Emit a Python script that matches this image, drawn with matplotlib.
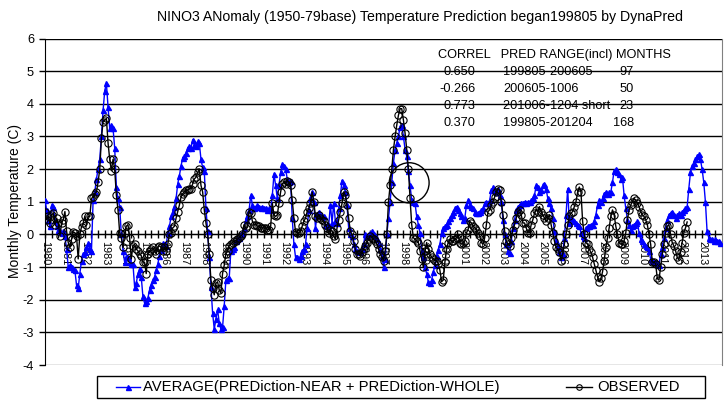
import numpy as np
import matplotlib
matplotlib.use("Agg")
import matplotlib.pyplot as plt
from matplotlib.patches import Ellipse, Rectangle
from matplotlib.lines import Line2D

plt.rcParams['font.family'] = ['Liberation Sans', 'DejaVu Sans']

# ---------------- data (monthly, starting Jan 1980) ----------------
obs_1980s = [
    0.70, 0.45, 0.55, 0.35, 0.60, 0.65, 0.30, 0.50, 0.35, -0.05, 0.35, 0.45,
    0.70, 0.10, -0.25, -0.40, -0.15, 0.08, 0.05, -0.05, -0.75, 0.00, 0.23, 0.35,
    0.55, 0.30, 0.55, 0.55, 1.10, 1.15, 1.25, 1.30, 1.60, 2.00, 2.95, 3.45,
    3.50, 3.55, 2.80, 2.30, 1.95, 2.30, 2.00, 1.20, 0.75, 0.05, -0.10, -0.40,
    0.05, 0.25, 0.30, -0.10, -0.75, -0.35, -0.30, -0.45, -0.50, -0.60, -0.65, -0.85,
    -0.85, -1.20, -0.60, -0.50, -0.45, -0.40, -0.50, -0.60, -0.40, -0.35, -0.40, -0.50,
    -0.40, -0.50, -0.30, 0.00, 0.05, 0.20, 0.25, 0.50, 0.70, 0.90, 1.15, 1.25,
    1.30, 1.35, 1.35, 1.40, 1.40, 1.55, 1.70, 1.75, 1.90, 2.00, 1.50, 1.30,
    0.75, 0.35, 0.00, -0.60, -1.40, -1.65, -1.85, -1.50, -1.45, -1.70, -1.80, -1.20,
    -0.95, -0.60, -0.50, -0.35, -0.30, -0.25, -0.20, -0.20, -0.15, -0.10, -0.05, 0.00,
]
obs_1990s = [
    0.30, 0.20, 0.25, 0.70, 0.65, 0.40, 0.30, 0.30, 0.25, 0.25, 0.20, 0.20,
    0.20, 0.20, 0.15, 0.15, 0.25, 0.95, 0.60, 0.55, 0.60, 0.95, 1.30, 1.55,
    1.60, 1.55, 1.65, 1.60, 1.50, 1.05, 0.50, 0.08, 0.05, 0.05, 0.10, 0.25,
    0.40, 0.50, 0.70, 0.80, 0.95, 1.30, 1.00, 0.55, 0.50, 0.60, 0.50, 0.45,
    0.40, 0.30, 0.20, 0.05, 0.15, 0.10, -0.05, -0.15, 0.20, 0.45, 0.70, 0.95,
    1.30, 1.20, 0.90, 0.50, 0.10, 0.00, -0.20, -0.45, -0.60, -0.60, -0.65, -0.55,
    -0.45, -0.35, -0.25, -0.15, -0.05, -0.10, -0.15, -0.20, -0.30, -0.45, -0.60, -0.70,
    -0.80, -0.50, 0.00, 1.00, 1.50, 2.00, 2.60, 3.00, 3.35, 3.65, 3.85, 3.85,
    3.50, 3.10, 2.60, 2.00, 1.10, 0.30, -0.10, -0.15, -0.20, -0.25, -0.50, -0.75,
    -1.00, -0.50, -0.25, -0.45, -0.60, -0.70, -0.75, -0.80, -0.80, -0.90, -1.10, -1.45,
]
obs_2000s = [
    -1.40, -0.85, -0.45, -0.25, -0.15, -0.20, -0.20, -0.15, -0.10, 0.00, -0.25, -0.30,
    -0.25, -0.20, 0.05, 0.15, 0.40, 0.35, 0.25, 0.20, 0.15, 0.05, -0.05, -0.25,
    -0.30, -0.10, 0.30, 0.70, 0.75, 0.90, 1.00, 1.15, 1.30, 1.40, 1.35, 1.00,
    0.60, 0.10, -0.20, -0.30, -0.35, -0.10, 0.15, 0.30, 0.50, 0.70, 0.75, 0.60,
    0.35, 0.35, 0.20, 0.05, 0.05, 0.30, 0.45, 0.65, 0.75, 0.70, 0.85, 0.70,
    0.60, 0.50, 0.40, 0.50, 0.60, 0.30, 0.05, -0.20, -0.40, -0.45, -0.55, -0.80,
    -0.60, -0.30, 0.00, 0.30, 0.55, 0.65, 0.70, 0.85, 1.00, 1.30, 1.45, 1.30,
    0.40, 0.00, -0.25, -0.30, -0.45, -0.55, -0.70, -0.90, -1.10, -1.30, -1.45, -1.35,
    -1.15, -0.80, -0.40, -0.10, 0.20, 0.55, 0.75, 0.60, 0.25, 0.00, -0.25, -0.30,
    -0.30, -0.20, 0.05, 0.45, 0.75, 0.90, 1.00, 1.10, 1.05, 0.95, 0.85, 0.70,
]
obs_2010s = [
    0.60, 0.55, 0.45, 0.30, 0.00, -0.30, -0.85, -0.85, -0.90, -1.35, -1.40, -1.00,
    -0.60, -0.30, 0.05, 0.25, 0.30, 0.00, -0.25, -0.35, -0.50, -0.70, -0.78, -0.55,
    -0.25, 0.05, 0.20, 0.38,
]

pred_1980s = [
    1.05, 0.75, 0.45, 0.25, 0.90, 0.85, 0.45, 0.25, 0.15, 0.10, 0.05, 0.10,
    -0.05, -0.45, -1.00, -0.95, -1.00, -1.05, -1.10, -1.55, -1.65, -1.20, -0.80, -0.60,
    -0.55, -0.40, -0.27, -0.45, -0.50, 1.05, 1.30, 1.70, 2.00, 2.30, 3.00, 3.80,
    4.40, 4.63, 3.90, 3.25, 3.35, 3.25, 2.65, 1.45, 1.10, 0.85, 0.00, -0.50,
    -0.85, -0.70, -0.70, -0.85, -0.90, -0.90, -1.60, -1.50, -1.20, -1.05, -1.30, -1.90,
    -2.10, -2.05, -1.95, -1.70, -1.55, -1.40, -1.30, -1.10, -0.90, -0.65, -0.47, -0.27,
    -0.30, -0.35, 0.05, 0.25, 0.55, 0.70, 0.85, 1.10, 1.55, 1.80, 2.10, 2.35,
    2.40, 2.50, 2.65, 2.70, 2.65, 2.90, 2.75, 2.70, 2.85, 2.80, 2.30, 2.05,
    1.95, 0.80, 0.10, -0.70, -1.60, -2.40, -2.90, -2.60, -2.30, -2.70, -2.90, -2.85,
    -2.20, -1.40, -1.35, -1.35, -0.50, -0.45, -0.40, -0.20, -0.15, -0.10, 0.00, 0.05,
]
pred_1990s = [
    0.20, 0.45, 0.55, 0.75, 1.20, 0.90, 0.80, 0.85, 0.90, 0.85, 0.80, 0.85,
    0.80, 0.80, 0.75, 0.80, 0.75, 1.20, 1.85, 1.50, 1.10, 1.50, 1.90, 2.15,
    2.10, 2.00, 1.70, 1.60, 1.65, 0.50, -0.30, -0.70, -0.70, -0.75, -0.65, -0.50,
    -0.45, -0.30, 0.20, 0.75, 1.10, 1.30, 1.00, 0.20, 0.60, 0.70, 0.60, 0.55,
    0.55, 0.30, 0.25, 0.30, 0.90, 0.35, 0.95, 0.40, 0.35, 0.80, 1.20, 1.65,
    1.50, 1.30, 0.90, 0.20, 0.00, -0.05, -0.30, -0.45, -0.50, -0.55, -0.50, -0.45,
    -0.30, 0.00, -0.05, 0.00, 0.05, 0.10, 0.00, -0.05, -0.15, -0.25, -0.45, -0.65,
    -1.00, -0.75, 0.00, 0.50, 1.00, 1.60, 2.20, 2.60, 2.80, 3.00, 3.30, 3.35,
    3.00, 2.60, 2.40, 1.95, 1.50, 1.05, 1.00, 0.95, 0.55, 0.30, 0.05, -0.50,
    -0.70, -1.00, -1.20, -1.45, -1.50, -1.40, -1.15, -0.95, -0.65, -0.47, -0.30, 0.05,
]
pred_2000s = [
    0.20, 0.25, 0.30, 0.40, 0.50, 0.60, 0.70, 0.80, 0.85, 0.75, 0.65, 0.55,
    0.45, 0.50, 0.90, 1.05, 0.90, 0.85, 0.80, 0.70, 0.65, 0.65, 0.70, 0.75,
    0.80, 0.95, 1.00, 0.95, 1.05, 1.35, 1.45, 1.35, 1.30, 1.40, 1.20, 1.00,
    0.45, 0.00, -0.30, -0.50, -0.57, -0.20, 0.20, 0.45, 0.75, 0.85, 0.90, 0.95,
    0.95, 1.00, 0.95, 1.00, 1.00, 1.05, 1.10, 1.20, 1.50, 1.45, 1.30, 1.35,
    1.50, 1.55, 1.40, 1.10, 0.95, 0.80, 0.50, 0.10, -0.20, -0.40, -0.55, -0.70,
    -0.60, -0.10, 0.60, 1.40, 0.35, 0.50, 0.45, 0.40, 0.35, 0.30, 0.25, 0.05,
    -0.05, -0.10, 0.20, 0.25, 0.25, 0.30, 0.30, 0.40, 0.60, 0.90, 1.05, 1.00,
    1.10, 1.25, 1.30, 1.25, 1.30, 1.30, 1.60, 1.95, 2.00, 1.90, 1.85, 1.70,
    1.75, 1.20, 0.80, 0.45, 0.30, 0.15, 0.25, 0.30, 0.35, 0.40, 0.05, -0.15,
]
pred_2010s = [
    -0.20, -0.30, -0.35, -0.40, -0.50, -0.75, -0.80, -0.85, -0.85, -0.90, -0.95, -0.60,
    -0.40, -0.10, 0.20, 0.45, 0.60, 0.65, 0.70, 0.60, 0.50, 0.60, 0.65, 0.60,
    0.70, 0.75, 0.80, 0.85, 1.40, 1.90, 2.10, 2.20, 2.30, 2.40, 2.45, 2.30,
    2.00, 1.60, 1.00, 0.10, -0.10, -0.15, -0.15, -0.20, -0.15, -0.20, -0.20, -0.25,
]

start_year = 1980
year_labels = [str(y) for y in range(1980, 2014)]

table_header = "CORREL   PRED RANGE(incl) MONTHS"
table_correl = ["0.650", "-0.266", "0.773", "0.370"]
table_range = ["199805-200605", "200605-1006", "201006-1204 short", "199805-201204"]
table_months = ["97", "50", "23", "168"]

title = "NINO3 ANomaly (1950-79base) Temperature Prediction began199805 by DynaPred"
pred_label = "AVERAGE(PREDiction-NEAR + PREDiction-WHOLE)"
obs_label = "OBSERVED"

# ---------------- figure ----------------
W, H = 728, 405
fig = plt.figure(figsize=(W / 100, H / 100), dpi=100)
fig.patch.set_facecolor('white')

def fx(px):
    return px / W

def fy(py):
    return 1 - py / H

L, R, T, B = 45, 722, 38.5, 365
ax = fig.add_axes([fx(L), fy(B), fx(R) - fx(L), fy(T) - fy(B)])

observed = np.array(obs_1980s + obs_1990s + obs_2000s + obs_2010s)
predicted = np.array(pred_1980s + pred_1990s + pred_2000s + pred_2010s)
t_obs = start_year + np.arange(len(observed)) / 12.0
t_pred = start_year + np.arange(len(predicted)) / 12.0

ax.set_xlim(1980, 2014)
ax.set_ylim(-4, 6)

# gridlines
for v in range(-3, 7):
    ax.axhline(v, color='black', lw=1, zorder=1)
ax.axhline(-4, color='#808080', lw=1, zorder=1)

ax.plot(t_pred, predicted, color='#0000ff', lw=1, marker='^', ms=3.6,
        mfc='#0000ff', mec='#0000ff', zorder=3)
ax.plot(t_obs, observed, color='black', lw=1, marker='o', ms=5.2,
        mfc='none', mec='black', mew=0.8, zorder=4)

# spines
ax.spines['top'].set_visible(False)
ax.spines['right'].set_color('#808080')
ax.spines['left'].set_color('black')
ax.spines['bottom'].set_position(('data', 0))
ax.spines['bottom'].set_color('black')
ax.spines['bottom'].set_zorder(2)

ax.set_yticks(range(-4, 7))
ax.set_yticklabels([str(v) for v in range(-4, 7)], fontsize=9.2)
ax.tick_params(axis='y', direction='out', length=4, width=1, pad=4)

years = np.arange(1980, 2014)
ax.set_xticks(years)
ax.set_xticklabels(year_labels, rotation=270, fontsize=7.8)
ax.set_xticks(np.arange(1980, 2014, 1 / 3.0), minor=True)
ax.tick_params(axis='x', which='both', direction='inout', length=6, width=1)
ax.tick_params(axis='x', which='major', pad=2)

# ellipse annotation
ax.add_patch(Ellipse((1998.29, 1.58), 2.0, 1.23, fill=False, ec='black', lw=1, zorder=5))

# texts
fig.text(fx(420), fy(17), title, ha='center', va='center', fontsize=10.2)
fig.text(fx(15), fy(201), "Monthly Temperature (C)", rotation=90,
         ha='center', va='center', fontsize=10)

fig.text(fx(438), fy(55), table_header, ha='left', va='center', fontsize=9.2)
row_y = [72, 89, 106, 123]
for yy, c, r_, m in zip(row_y, table_correl, table_range, table_months):
    fig.text(fx(475), fy(yy), c, ha='right', va='center', fontsize=9.2)
    fig.text(fx(503), fy(yy), r_, ha='left', va='center', fontsize=9.2)
    fig.text(fx(634), fy(yy), m, ha='right', va='center', fontsize=9.2)

# legend (drawn as a framed box with two entries)
fig.add_artist(Rectangle((fx(97), fy(398)), fx(705) - fx(97), fy(376) - fy(398),
                         transform=fig.transFigure, fill=False, ec='black', lw=1))
ly = fy(387)
fig.add_artist(Line2D([fx(116), fx(140)], [ly, ly], transform=fig.transFigure,
                      color='#0000ff', lw=1))
fig.add_artist(Line2D([fx(128)], [ly], transform=fig.transFigure, color='#0000ff',
                      marker='^', ms=3.6, lw=0))
fig.text(fx(143), ly, pred_label, ha='left', va='center', fontsize=10.7)
fig.add_artist(Line2D([fx(566), fx(592)], [ly, ly], transform=fig.transFigure,
                      color='black', lw=1))
fig.add_artist(Line2D([fx(579)], [ly], transform=fig.transFigure, color='black',
                      marker='o', ms=4, mfc='none', mew=0.8, lw=0))
fig.text(fx(597), ly, obs_label, ha='left', va='center', fontsize=10.7)

fig.savefig('out.png', dpi=100)
